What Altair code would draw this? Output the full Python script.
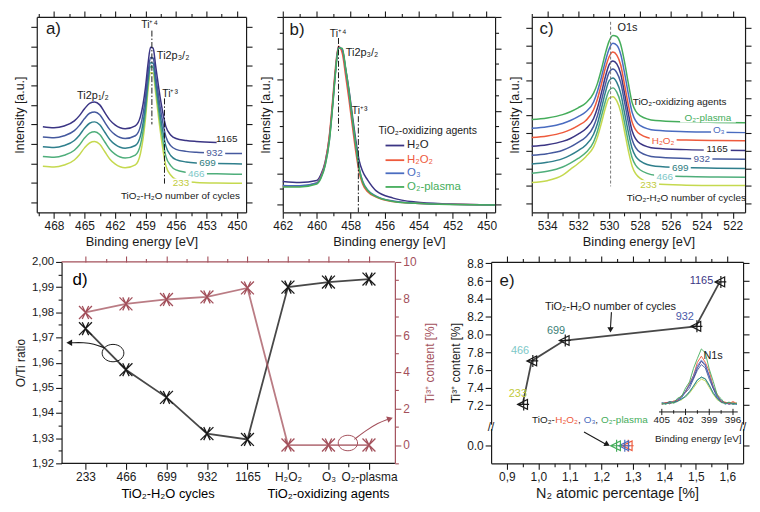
import altair as alt
import pandas as pd

FONT = "Liberation Sans"
BLACK = "#1a1a1a"
RED = "#a3505b"

# ---------------- a) Ti2p, TiO2-H2O number of cycles ----------------
cycles = ["233", "466", "699", "932", "1165"]
cycle_colors = ["#c5d94f", "#4fae7b", "#2f7f8c", "#45599e", "#3b3584"]
cycle_label_colors = ["#bfcb3c", "#7dc8c8", "#2e7c80", "#4a5a9a", "#222222"]

a_energy = [469.1, 468, 467, 466, 465.5, 465, 464.5, 464, 463.5, 463, 462.5, 462, 461, 460,
            459.5, 459, 458.75, 458.5, 458.25, 458, 457.5, 457, 456.5, 456, 455, 454, 452, 449.5]
a_233 = [23.6, 23.2, 24.2, 26.8, 29.5, 33.0, 35.5, 36.2, 34.8, 31.0, 27.2, 24.8, 22.8, 24.3,
         30.0, 48.0, 62.5, 71.5, 71.3, 61.0, 40.0, 24.0, 19.0, 16.8, 15.7, 15.3, 15.0, 14.9]
a_466 = [28.6, 28.2, 29.2, 31.8, 34.5, 38.0, 40.5, 41.2, 39.8, 36.0, 32.2, 29.8, 27.8, 29.3,
         34.5, 51.5, 65.5, 74.5, 74.3, 64.5, 44.0, 28.8, 23.8, 21.7, 20.5, 20.0, 19.7, 19.5]
a_699 = [33.6, 33.2, 34.2, 36.8, 39.5, 43.0, 45.6, 46.3, 44.8, 41.0, 37.2, 34.8, 32.8, 34.2,
         39.0, 55.0, 68.0, 76.5, 76.3, 67.0, 48.0, 34.0, 29.0, 27.0, 25.8, 25.3, 25.0, 24.8]
a_932 = [38.6, 38.2, 39.2, 41.8, 44.5, 48.0, 50.7, 51.4, 50.0, 46.0, 42.2, 39.8, 37.8, 39.2,
         44.0, 59.0, 71.0, 79.3, 79.0, 70.0, 52.0, 38.8, 34.0, 32.2, 31.2, 30.7, 30.3, 30.1]
a_1165 = [43.8, 43.3, 44.2, 46.8, 49.5, 53.0, 55.8, 56.5, 55.0, 51.0, 47.2, 44.8, 42.8, 44.3,
          49.0, 64.0, 76.0, 84.5, 84.0, 75.0, 57.0, 44.0, 39.5, 37.8, 36.8, 36.3, 35.8, None]
a_lab_E = [455.5, 454.0, 452.9, 452.2, 451.0]
a_lab_I = [15.0, 19.8, 25.0, 30.3, 37.5]
a_xticks = [450, 451.5, 453, 454.5, 456, 457.5, 459, 460.5, 462, 463.5, 465, 466.5, 468, 469.5]
a_yticks = [5, 15, 25, 35, 45, 55, 65, 75, 85, 95]

# ---------------- b) Ti2p3/2, oxidizing agents ----------------
agents = ["H₂O", "H₂O₂", "O₃", "O₂-plasma"]
agent_colors = ["#3b3584", "#ee5a3c", "#4a6cc0", "#45ad5b"]
agent_label_colors = ["#222222", "#ee5a3c", "#4a6cc0", "#45ad5b"]

b_energy = [462, 461, 460, 459.75, 459.5, 459.25, 459.05, 458.9, 458.72, 458.5, 458.3, 458.1,
            457.9, 457.7, 457.5, 457.3, 457, 456.5, 455.5, 454.2, 452.2, 449.5]
b_h2o = [15.8, 15.3, 16.3, 19.5, 26.0, 39.0, 57.0, 72.0, 84.5, 83.0, 73.5, 62.5,
         49.5, 37.0, 26.5, 21.0, 16.5, 11.0, 7.3, 5.3, 4.3, 3.8]
b_h2o2 = [13.3, 13.3, 15.0, 18.5, 25.5, 40.0, 59.0, 74.0, 85.0, 81.5, 70.0, 57.5,
          44.0, 31.0, 20.5, 14.5, 10.5, 7.8, 5.5, 4.6, 4.1, 3.8]
b_o3 = [13.8, 13.6, 15.0, 18.0, 24.5, 37.5, 56.0, 71.5, 84.5, 83.5, 73.0, 61.0,
        47.0, 34.0, 22.5, 16.0, 11.5, 8.3, 5.8, 4.7, 4.1, 3.8]
b_o2p = [13.0, 13.0, 14.5, 17.5, 24.0, 37.0, 55.5, 71.0, 84.0, 84.0, 74.0, 62.0,
         48.0, 34.5, 22.5, 15.5, 11.2, 8.0, 5.6, 4.6, 4.0, 3.8]
b_legend_I = [34.2, 26.7, 20.0, 13.0]
b_xticks = [450, 451, 452, 453, 454, 455, 456, 457, 458, 459, 460, 461, 462]
b_yticks = [4, 12, 20, 28, 36, 44, 52, 60, 68, 76, 84, 92, 100]

# ---------------- c) O1s ----------------
c_series = cycles + agents[1:]
c_colors = cycle_colors + agent_colors[1:]
c_label_colors = cycle_label_colors + agent_label_colors[1:]
c_energy = [535, 534, 533, 532.5, 532, 531.5, 531, 530.75, 530.5, 530.25, 530, 529.75,
            529.5, 529.25, 529, 528.75, 528.5, 528, 527, 525, 523, 521.2]
c_233 = [15.3, 16.2, 19.0, 22.0, 25.0, 28.5, 33.5, 38.5, 45.5, 53.0, 58.5, 59.2,
         57.0, 51.5, 41.5, 31.5, 23.5, 17.5, 14.5, 13.9, 13.7, 13.7]
c_466 = [20.0, 21.0, 23.2, 25.2, 27.6, 30.6, 36.0, 41.5, 49.0, 56.5, 62.3, 63.7,
         61.5, 56.0, 46.0, 36.0, 27.8, 21.8, 19.0, 18.3, 18.1, 18.0]
c_699 = [24.7, 25.6, 27.5, 29.3, 31.6, 34.5, 40.0, 45.5, 53.0, 61.0, 67.3, 68.7,
         66.5, 61.0, 51.0, 41.0, 32.5, 26.3, 23.6, 22.9, 22.6, 22.5]
c_932 = [29.2, 30.0, 31.8, 33.5, 35.8, 38.6, 44.0, 49.5, 57.0, 65.0, 71.5, 73.3,
         71.5, 66.5, 56.5, 46.0, 37.0, 30.8, 28.3, 27.6, 27.3, 27.2]
c_1165 = [33.8, 34.6, 36.3, 37.8, 40.0, 42.8, 48.0, 53.5, 61.0, 69.0, 75.5, 77.5,
          76.0, 71.0, 61.0, 50.5, 41.5, 35.3, 32.8, 32.1, 31.8, 31.7]
c_h2o2 = [38.3, 39.1, 40.8, 42.3, 44.4, 47.0, 52.5, 58.0, 65.5, 73.5, 79.5, 82.0,
          80.5, 75.5, 65.5, 55.0, 46.0, 40.0, 37.5, 37.0, 36.8, 36.7]
c_o3 = [43.0, 43.8, 45.5, 47.0, 49.0, 51.5, 56.5, 62.0, 69.0, 77.0, 83.5, 86.5,
        85.5, 81.0, 71.5, 60.5, 51.0, 44.5, 42.0, 41.3, 41.0, 40.8]
c_o2p = [47.5, 48.3, 50.0, 51.5, 53.5, 56.0, 61.0, 66.0, 73.0, 81.0, 87.5, 90.5,
         90.0, 86.0, 77.0, 66.0, 56.0, 49.5, 47.0, 46.3, 46.0, 45.8]
c_lab_E = [527.45, 526.4, 525.4, 524.0, 523.0, 526.5, 522.9, 523.6]
c_lab_I = [14.2, 18.3, 22.8, 27.5, 32.5, 36.7, 42.0, 48.3]
c_xticks = [522, 523, 524, 525, 526, 527, 528, 529, 530, 531, 532, 533, 534, 535]
c_yticks = [4.5, 13.5, 22.5, 31.5, 40.5, 49.5, 58.5, 67.5, 76.5, 85.5, 94.5]

# ---------------- d) O/Ti ratio and Ti3+ content ----------------
d_categories = ["233", "466", "699", "932", "1165", "H₂O₂", "O₃", "O₂-plasma"]
d_o_ti = [1.9735, 1.9572, 1.9462, 1.9318, 1.9295, 1.9900, 1.9920, 1.9932]
d_ti3 = [7.24, 7.71, 7.95, 8.09, 8.58, 0.0, 0.0, 0.0]
d_xticks = [1, 1.5, 2, 2.5, 3, 3.5, 4, 4.5, 5, 5.5, 6, 6.5, 7, 7.5, 8]
d_yticks = [1.92, 1.925, 1.93, 1.935, 1.94, 1.945, 1.95, 1.955, 1.96, 1.965,
            1.97, 1.975, 1.98, 1.985, 1.99, 1.995, 2.0]
d_rticks = [-1, 0, 1, 2, 3, 4, 5, 6, 7, 8, 9, 10]

# ---------------- e) Ti3+ content vs N2 ----------------
e_n2 = [0.950, 0.979, 1.082, 1.500, 1.576]
e_ti3 = [7.21, 7.70, 7.93, 8.09, 8.59]
e_agent_n2 = [1.282, 1.271, 1.245]
e_agent_ti3 = [0.0, 0.0, 0.0]
e_lab_x = [0.935, 0.942, 1.056, 1.465, 1.518]
e_lab_y = [7.33, 7.81, 8.04, 8.20, 8.60]
e_lab_colors = ["#bfcb3c", "#7dc8c8", "#3e7f78", "#4a5aa8", "#3b3584"]
e_xticks = [0.9, 0.95, 1.0, 1.05, 1.1, 1.15, 1.2, 1.25, 1.3, 1.35, 1.4, 1.45, 1.5, 1.55, 1.6]
e_yticks_upper = [7.2, 7.4, 7.6, 7.8, 8.0, 8.2, 8.4, 8.6, 8.8]

# N1s inset
n1s_energy = [405, 404.5, 404, 403.5, 403, 402.5, 402, 401.5, 401, 400.5,
              400, 399.5, 399, 398.5, 398, 397.5, 397, 396.5, 396, 395.5]
n1s = {
    "233": [0.01, 0.03, 0.03, 0.04, 0.07, 0.09, 0.15, 0.21, 0.30, 0.40, 0.46, 0.43, 0.31, 0.19, 0.09, 0.05, 0.02, 0.03, 0.04, 0.02],
    "466": [0.03, 0.02, 0.05, 0.03, 0.06, 0.11, 0.14, 0.22, 0.34, 0.45, 0.49, 0.47, 0.36, 0.20, 0.12, 0.04, 0.03, 0.04, 0.02, 0.03],
    "699": [0.02, 0.04, 0.02, 0.05, 0.07, 0.10, 0.16, 0.24, 0.33, 0.44, 0.50, 0.46, 0.34, 0.22, 0.11, 0.05, 0.04, 0.02, 0.03, 0.01],
    "932": [0.03, 0.02, 0.04, 0.06, 0.07, 0.14, 0.22, 0.30, 0.46, 0.62, 0.72, 0.66, 0.46, 0.29, 0.13, 0.07, 0.03, 0.03, 0.01, 0.03],
    "1165": [0.01, 0.03, 0.06, 0.04, 0.09, 0.16, 0.24, 0.35, 0.48, 0.66, 0.78, 0.70, 0.52, 0.30, 0.17, 0.06, 0.04, 0.01, 0.03, 0.02],
    "H₂O₂": [0.02, 0.04, 0.02, 0.07, 0.08, 0.16, 0.23, 0.39, 0.52, 0.76, 0.87, 0.76, 0.60, 0.33, 0.19, 0.06, 0.05, 0.02, 0.06, 0.02],
    "O₃": [0.04, 0.02, 0.03, 0.05, 0.10, 0.12, 0.25, 0.36, 0.52, 0.70, 0.80, 0.73, 0.51, 0.33, 0.15, 0.08, 0.01, 0.04, 0.02, 0.01],
    "O₂-plasma": [0.03, 0.01, 0.05, 0.04, 0.12, 0.15, 0.30, 0.41, 0.65, 0.83, 1.00, 0.93, 0.64, 0.42, 0.18, 0.11, 0.02, 0.05, 0.01, 0.03],
}
n1s_ticks = [405, 403.5, 402, 400.5, 399, 397.5, 396]
n1s_tick_labels = ["405", "402", "399", "396"]

XMARK = "M-1,-1L1,1M-1,1L1,-1M-0.5,-1L0.5,1M-0.5,1L0.5,-1"
TRIMARK = "M-0.9,0L0.9,-0.9L0.9,0.9Z M0.2,-1.1L0.2,1.1 M-0.9,0L1.2,0"
ELLIPSE = "M-1,0A1,0.8 0 1,1 1,0A1,0.8 0 1,1 -1,0Z"


def mt(step, base=0):
    return f"abs((datum.value - {base}) / {step} - round((datum.value - {base}) / {step})) < 0.001"


def ax(values, orient, major, title=None, labels=True, color=BLACK, label_expr="datum.label",
       label_color=BLACK, title_color=BLACK, title_size=13, label_size=12, title_pad=4, **extra):
    return alt.Axis(orient=orient, values=values, title=title, grid=False, labels=labels,
                    domainColor=color, domainWidth=1.2, tickColor=color, tickWidth=1.1,
                    tickSize={"condition": {"test": major, "value": 6}, "value": 3.5},
                    labelExpr=f"({major}) ? {label_expr} : ''", labelFont=FONT,
                    labelFontSize=label_size, labelColor=label_color, labelPadding=2,
                    labelFlush=False, labelOverlap=False, titleFont=FONT,
                    titleFontSize=title_size, titleFontWeight="normal",
                    titleColor=title_color, titlePadding=title_pad, **extra)


def frame(xdom, xrev, xaxis, ydom, yaxis):
    # invisible layer that carries the top and right tick axes
    df = pd.DataFrame({"fx": xdom, "fy": ydom})
    return alt.Chart(df).mark_point(opacity=0).encode(
        x=alt.X("fx:Q", scale=alt.Scale(domain=xdom, reverse=xrev, nice=False, zero=False), axis=xaxis),
        y=alt.Y("fy:Q", scale=alt.Scale(domain=ydom, nice=False, zero=False), axis=yaxis))


def text_layers(rows, X, Y, xf, yf):
    tx = pd.DataFrame(rows, columns=["t", xf, yf, "fs", "al", "c"])
    out = []
    for al in ["left", "center", "right"]:
        sub = tx[tx["al"] == al]
        if len(sub):
            out.append(alt.Chart(sub).mark_text(align=al, baseline="middle", font=FONT).encode(
                x=X(xf), y=Y(yf), text="t:N", color=alt.Color("c:N", scale=None),
                size=alt.Size("fs:Q", scale=None)))
    return out


def spectrum_panel(energy, names, curves, colors, xdom, xticks, xmajor, yticks, ymajor,
                   width, height, texts, boxed, rules, dash, extra=None):
    xs = alt.Scale(domain=xdom, reverse=True, nice=False, zero=False)
    ys = alt.Scale(domain=[0, 100], nice=False, zero=False)
    xaxis = ax(xticks, "bottom", xmajor, title="Binding energy [eV]")
    yaxis = ax(yticks, "left", ymajor, title="Intensity [a.u.]", labels=False, title_size=12.5)

    def X(f):
        return alt.X(f, type="quantitative", scale=xs, axis=xaxis)

    def Y(f):
        return alt.Y(f, type="quantitative", scale=ys, axis=yaxis)

    rows = [{"E": e, "I": v, "s": n, "c": c}
            for n, c, vals in zip(names, colors, curves)
            for e, v in zip(energy, vals) if v is not None]
    layers = [alt.Chart(pd.DataFrame(rows)).mark_line(interpolate="monotone", strokeWidth=1.5).encode(
        x=X("E"), y=Y("I"), color=alt.Color("c:N", scale=None), detail="s:N")]

    rl = pd.DataFrame(rules, columns=["E", "I", "I2", "c"])
    layers.append(alt.Chart(rl).mark_rule(strokeDash=dash, strokeWidth=1).encode(
        x=X("E"), y=Y("I"), y2="I2", color=alt.Color("c:N", scale=None)))

    if extra is not None:
        layers += extra(X, Y)

    px_e = width / (xdom[1] - xdom[0])
    px_i = height / 100
    bx = pd.DataFrame([{"x1": e - (len(t) * 2.9 + 2) / px_e, "x2": e + (len(t) * 2.9 + 2) / px_e,
                        "y1": i - 4.5 / px_i, "y2": i + 4.5 / px_i} for t, e, i in boxed])
    layers.append(alt.Chart(bx).mark_rect(color="white").encode(
        x=X("x1"), x2="x2", y=Y("y1"), y2="y2"))
    layers += text_layers(texts, X, Y, "E", "I")

    fr = frame(xdom, True, ax(xticks, "top", xmajor, labels=False),
               [0, 100], ax(yticks, "right", ymajor, labels=False))
    return alt.layer(alt.layer(*layers), fr).resolve_scale(
        x="independent", y="independent").properties(width=width, height=height)


TOP_H = 197

# ---- panel a ----
a_texts = [("a)", 468.8, 94, 17, "left", BLACK),
           ("Ti2p₁/₂", 464.17, 59.5, 11, "center", BLACK),
           ("Ti⁺⁴", 458.6, 95.8, 10.5, "center", BLACK),
           ("Ti2p₃/₂", 457.88, 80, 11, "left", BLACK),
           ("Ti⁺³", 456.58, 60.8, 10.5, "center", BLACK),
           ("TiO₂-H₂O number of cycles", 449.7, 8.4, 10, "right", BLACK)]
a_texts += [(n, e, i, 10, "center", c) for n, e, i, c in zip(cycles, a_lab_E, a_lab_I, cycle_label_colors)]
a_boxed = [(n, e, i) for n, e, i in zip(cycles[:4], a_lab_E[:4], a_lab_I[:4])]
a_rules = [(458.37, 93, 45, BLACK), (457.13, 58.3, 14.7, BLACK)]
panel_a = spectrum_panel(a_energy, cycles, [a_233, a_466, a_699, a_932, a_1165], cycle_colors,
                         [449.1, 469.7], a_xticks, mt(3), a_yticks, "true", 211, TOP_H,
                         a_texts, a_boxed, a_rules, [6, 2, 1.5, 2])

# ---- panel b ----
b_texts = [("b)", 461.6, 93.3, 17, "left", BLACK),
           ("Ti⁺⁴", 458.74, 91.5, 10.5, "center", BLACK),
           ("Ti2p₃/₂", 458.29, 81.7, 11, "left", BLACK),
           ("Ti⁺³", 457.47, 52, 10.5, "center", BLACK),
           ("TiO₂-oxidizing agents", 453.47, 41.7, 10.5, "center", BLACK)]
b_texts += [(n, 454.68, i, 11.5, "left", c) for n, i, c in zip(agents, b_legend_I, agent_label_colors)]
b_rules = [(458.72, 89.2, 41.7, BLACK), (457.55, 49.2, 0, BLACK)]


def b_legend(X, Y):
    lg = pd.DataFrame({"E1": 455.95, "E2": 454.85, "I": b_legend_I, "c": agent_colors})
    return [alt.Chart(lg).mark_rule(strokeWidth=1.8).encode(
        x=X("E1"), x2="E2", y=Y("I"), color=alt.Color("c:N", scale=None))]


panel_b = spectrum_panel(b_energy, agents, [b_h2o, b_h2o2, b_o3, b_o2p], agent_colors,
                         [449.5, 462], b_xticks, mt(2), b_yticks, mt(16, 4), 214, TOP_H,
                         b_texts, [], b_rules, [6, 2, 1.5, 2], extra=b_legend)

# ---- panel c ----
c_texts = [("c)", 534.5, 94, 17, "left", BLACK),
           ("O1s", 529.45, 94.5, 11, "left", BLACK),
           ("TiO₂-oxidizing agents", 522.4, 56.7, 10, "right", BLACK),
           ("TiO₂-H₂O number of cycles", 525.0, 7.5, 10, "center", BLACK)]
c_texts += [(n, e, i, 10, "center", c) for n, e, i, c in zip(c_series, c_lab_E, c_lab_I, c_label_colors)]
c_boxed = [(n, e, i) for n, e, i in zip(c_series, c_lab_E, c_lab_I)]
c_rules = [(529.9, 97.5, 13.3, "#777777")]
panel_c = spectrum_panel(c_energy, c_series, [c_233, c_466, c_699, c_932, c_1165, c_h2o2, c_o3, c_o2p],
                         c_colors, [521.2, 535.0], c_xticks, mt(2), c_yticks, "true", 215, TOP_H,
                         c_texts, c_boxed, c_rules, [3, 2])

# ---- panel d ----
# the concat grid aligns the plot origins of a) and d); d)'s left axis is therefore pulled
# inwards by D_SHIFT pixels and the x domain widened by the same amount
D_SHIFT = 25
D_FRAME_W, D_H = 336, 203
D_W = D_FRAME_W + D_SHIFT
d_unit = D_FRAME_W / (8.64 - 0.41)
xs_d = alt.Scale(domain=[0.41 - D_SHIFT / d_unit, 8.64], nice=False, zero=False)
yl_d = alt.Scale(domain=[1.92, 2.0], nice=False, zero=False)
yr_d = alt.Scale(domain=[-1, 10], nice=False, zero=False)
cat_expr = "[" + ",".join(f"'{c}'" for c in d_categories) + "][datum.value - 1]"
d_xb = ax(d_xticks, "bottom", mt(1), label_expr=cat_expr, domain=False)
d_yl = ax(d_yticks, "left", mt(0.01), title="O/Ti ratio", title_size=12, label_size=11.5,
          label_expr="replace(format(datum.value, '.2f'), '.', ',')", offset=-D_SHIFT)
d_xt = ax(d_xticks, "top", mt(1), labels=False, color=RED, domain=False)
d_yr = ax(d_rticks, "right", mt(2), title="Ti³⁺ content [%]", color=RED, label_color=RED,
          title_color=RED, title_size=12, title_pad=9, titleAngle=270, titleBaseline="top")


def XB(f):
    return alt.X(f, type="quantitative", scale=xs_d, axis=d_xb)


def YB(f):
    return alt.Y(f, type="quantitative", scale=yl_d, axis=d_yl)


def XR(f):
    return alt.X(f, type="quantitative", scale=xs_d, axis=d_xt)


def YR(f):
    return alt.Y(f, type="quantitative", scale=yr_d, axis=d_yr)


d_df = pd.DataFrame({"idx": list(range(1, len(d_categories) + 1)), "oti": d_o_ti, "ti3": d_ti3})
d_black_arrow = pd.DataFrame({"o": [0, 1, 2, 3], "idx": [1.466, 1.204, 0.96, 0.66],
                              "oti": [1.9659, 1.9675, 1.968, 1.9679]})
d_red_arrow = pd.DataFrame({"o": [0, 1, 2, 3], "idx": [7.64, 7.9, 8.23, 8.48],
                            "ti3": [0.31, 0.76, 1.22, 1.42]})
one = pd.DataFrame({"k": [0]})

black = alt.layer(
    alt.Chart(one).mark_rule(color=BLACK, strokeWidth=1.2).encode(
        x=alt.value(D_SHIFT), x2=alt.value(D_W), y=alt.value(D_H)),
    alt.Chart(d_df).mark_line(color=BLACK, strokeWidth=1.8, opacity=0.8).encode(x=XB("idx"), y=YB("oti")),
    alt.Chart(d_df).mark_point(shape=XMARK, size=170, filled=False, color=BLACK, strokeWidth=1.3,
                               opacity=1).encode(x=XB("idx"), y=YB("oti")),
    alt.Chart(pd.DataFrame({"idx": [1.68], "oti": [1.9638]})).mark_point(
        shape=ELLIPSE, size=480, filled=False, color=BLACK, strokeWidth=1, opacity=1).encode(
        x=XB("idx"), y=YB("oti")),
    alt.Chart(d_black_arrow).mark_line(color=BLACK, strokeWidth=1.1, interpolate="basis").encode(
        x=XB("idx"), y=YB("oti"), order="o:Q"),
    alt.Chart(pd.DataFrame({"idx": [0.6], "oti": [1.9679]})).mark_point(
        shape="triangle-left", size=45, filled=True, color=BLACK, opacity=1).encode(
        x=XB("idx"), y=YB("oti")),
    alt.Chart(pd.DataFrame({"idx": [0.68], "oti": [1.993], "t": ["d)"]})).mark_text(
        align="left", baseline="middle", font=FONT, fontSize=17).encode(
        x=XB("idx"), y=YB("oti"), text="t:N"),
    alt.Chart(pd.DataFrame({"idx": [3.04, 7.0], "t": ["TiO₂-H₂O cycles", "TiO₂-oxidizing agents"]})).mark_text(
        baseline="middle", font=FONT, fontSize=13).encode(
        x=XB("idx"), y=alt.value(D_H + 31), text="t:N"),
)
red = alt.layer(
    alt.Chart(one).mark_rule(color=RED, strokeWidth=1.2).encode(
        x=alt.value(D_SHIFT), x2=alt.value(D_W), y=alt.value(0)),
    alt.Chart(d_df).mark_line(color=RED, strokeWidth=1.8, opacity=0.75).encode(x=XR("idx"), y=YR("ti3")),
    alt.Chart(d_df).mark_point(shape=XMARK, size=170, filled=False, color=RED, strokeWidth=1.3,
                               opacity=1).encode(x=XR("idx"), y=YR("ti3")),
    alt.Chart(pd.DataFrame({"idx": [7.48], "ti3": [0.11]})).mark_point(
        shape=ELLIPSE, size=380, filled=False, color=RED, strokeWidth=1, opacity=1).encode(
        x=XR("idx"), y=YR("ti3")),
    alt.Chart(d_red_arrow).mark_line(color=RED, strokeWidth=1.1, interpolate="basis").encode(
        x=XR("idx"), y=YR("ti3"), order="o:Q"),
    alt.Chart(pd.DataFrame({"idx": [8.52], "ti3": [1.44]})).mark_point(
        shape="triangle-right", size=45, filled=True, color=RED, opacity=1, angle=341).encode(
        x=XR("idx"), y=YR("ti3")),
)
panel_d = alt.layer(black, red).resolve_scale(x="independent", y="independent").properties(
    width=D_W, height=D_H)

# ---- panel e ----
E_W, E_H = 254, 203
ZERO = 6.744
BREAK = 6.957
xs_e = alt.Scale(domain=[0.85, 1.65], nice=False, zero=False)
ys_e = alt.Scale(domain=[6.546, 8.815], nice=False, zero=False)
e_yticks = [ZERO] + e_yticks_upper
e_xaxis = ax(e_xticks, "bottom", mt(0.1), title="N₂ atomic percentage [%]", title_size=14.5,
             label_expr="replace(format(datum.value, '.1f'), '.', ',')")
e_yaxis = ax(e_yticks, "left", "true", title="Ti³⁺ content [%]", title_size=12,
             label_expr="datum.value < 7 ? '0.0' : format(datum.value, '.1f')")


def XE(f):
    return alt.X(f, type="quantitative", scale=xs_e, axis=e_xaxis)


def YE(f):
    return alt.Y(f, type="quantitative", scale=ys_e, axis=e_yaxis)


def inset_x(e):
    return 1.392 + (405 - e) * 0.02511


broken = f"datum.ti3 < 1 ? {ZERO} : datum.ti3"
e_up = pd.DataFrame({"x": e_n2, "ti3": e_ti3})
e_ag = pd.DataFrame({"x": e_agent_n2, "ti3": e_agent_ti3, "c": agent_colors[1:]})
n1s_rows = pd.DataFrame([{"E": e, "I": v, "s": n, "c": c}
                         for (n, vals), c in zip(n1s.items(), c_colors)
                         for e, v in zip(n1s_energy, vals)])
inset_ticks = pd.DataFrame({"x": [inset_x(e) for e in n1s_ticks],
                            "y1": [7.09 if i % 2 == 0 else 7.105 for i in range(len(n1s_ticks))],
                            "y2": [7.16 if i % 2 == 0 else 7.145 for i in range(len(n1s_ticks))]})
e_texts = [("e)", 0.877, 8.60, 17, "left", BLACK),
           ("TiO₂-H₂O number of cycles", 1.229, 8.303, 11, "center", BLACK),
           ("N1s", 1.524, 7.76, 11, "left", BLACK),
           ("Binding energy [eV]", 1.508, 6.82, 10, "center", BLACK),
           ("TiO₂-", 0.98, 7.03, 10, "left", BLACK),
           ("H₂O₂", 1.054, 7.03, 10, "left", agent_colors[1]),
           (",", 1.126, 7.03, 10, "left", BLACK),
           ("O₃", 1.144, 7.03, 10, "left", agent_colors[2]),
           (",", 1.181, 7.03, 10, "left", BLACK),
           ("O₂-plasma", 1.199, 7.03, 10, "left", agent_colors[3])]
e_texts += [(t, inset_x(float(t)), 7.035, 10, "center", BLACK) for t in n1s_tick_labels]
e_texts += [(n, x, y, 11, "center", c) for n, x, y, c in zip(cycles, e_lab_x, e_lab_y, e_lab_colors)]
e_arrows = pd.DataFrame({"g": ["a", "a", "b", "b"], "o": [0, 1, 0, 1],
                         "x": [1.232, 1.229, 1.145, 1.213], "y": [8.25, 8.07, 6.90, 6.763]})

e_layers = [
    alt.Chart(n1s_rows).mark_line(strokeWidth=0.9).encode(
        x=alt.X("ix:Q", scale=xs_e, axis=e_xaxis), y=alt.Y("iy:Q", scale=ys_e, axis=e_yaxis),
        color=alt.Color("c:N", scale=None), detail="s:N").transform_calculate(
        ix="1.392 + (405 - datum.E) * 0.02511", iy="7.205 + datum.I * 0.63"),
    alt.Chart(pd.DataFrame({"x": [inset_x(405.35)], "x2": [inset_x(395.4)], "y": [7.125]})).mark_rule(
        color=BLACK, strokeWidth=1).encode(x=XE("x"), x2="x2", y=YE("y")),
    alt.Chart(inset_ticks).mark_rule(color=BLACK, strokeWidth=1).encode(x=XE("x"), y=YE("y1"), y2="y2"),
    alt.Chart(e_up).mark_line(color=BLACK, strokeWidth=1.8, opacity=0.8).encode(
        x=XE("x"), y=YE("y")).transform_calculate(y=broken),
    alt.Chart(e_up).mark_point(shape=TRIMARK, size=120, filled=False, color=BLACK, strokeWidth=1.2,
                               opacity=1).encode(x=XE("x"), y=YE("y")).transform_calculate(y=broken),
    alt.Chart(e_ag).mark_point(shape=TRIMARK, size=120, filled=False, strokeWidth=1.2, opacity=1).encode(
        x=XE("x"), y=YE("y"), color=alt.Color("c:N", scale=None)).transform_calculate(y=broken),
    alt.Chart(e_arrows).mark_line(color=BLACK, strokeWidth=1.1).encode(
        x=XE("x"), y=YE("y"), detail="g:N", order="o:Q"),
    alt.Chart(pd.DataFrame({"x": [1.229], "y": [8.05]})).mark_point(
        shape="triangle-down", size=40, filled=True, color=BLACK, opacity=1).encode(x=XE("x"), y=YE("y")),
    alt.Chart(pd.DataFrame({"x": [1.219], "y": [6.759]})).mark_point(
        shape="triangle-right", size=40, filled=True, color=BLACK, opacity=1, angle=28).encode(
        x=XE("x"), y=YE("y")),
    alt.Chart(pd.DataFrame({"y": [BREAK - 0.025], "y2": [BREAK + 0.025]})).mark_rect(color="white").encode(
        x=alt.value(-4), x2=alt.value(4), y=YE("y"), y2="y2"),
    alt.Chart(pd.DataFrame({"y": [BREAK - 0.025], "y2": [BREAK + 0.025]})).mark_rect(color="white").encode(
        x=alt.value(E_W - 4), x2=alt.value(E_W + 4), y=YE("y"), y2="y2"),
    alt.Chart(pd.DataFrame({"x": [0.85, 1.65], "y": [BREAK, BREAK]})).mark_text(
        text="//", font=FONT, fontSize=12, color=BLACK).encode(x=XE("x"), y=YE("y")),
]
e_layers += text_layers(e_texts, XE, YE, "x", "y")
e_frame = frame([0.85, 1.65], False, ax(e_xticks, "top", mt(0.1), labels=False),
                [6.546, 8.815], ax(e_yticks, "right", "true", labels=False))
panel_e = alt.layer(alt.layer(*e_layers), e_frame).resolve_scale(
    x="independent", y="independent").properties(width=E_W, height=E_H)

top = alt.hconcat(panel_a, panel_b, panel_c, spacing=6)
bottom = alt.hconcat(panel_d, panel_e, spacing=13)
chart = alt.vconcat(top, bottom, spacing=7).properties(
    padding={"left": 5, "top": 0, "right": 0, "bottom": 2}).configure_view(strokeWidth=0)

chart.save("out.html", embed_options={"renderer": "svg", "actions": False})
